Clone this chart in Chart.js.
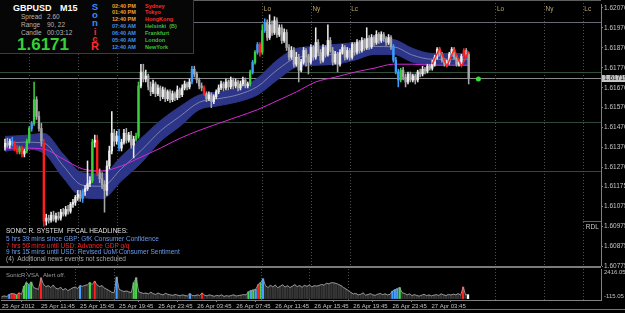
<!DOCTYPE html>
<html>
<head>
<meta charset="utf-8">
<title>GBPUSD M15 - Sonic R</title>
<script src="https://cdn.jsdelivr.net/npm/chart.js@4.4.1/dist/chart.umd.min.js"></script>
<style>
html,body{margin:0;padding:0;background:#000;}
body{position:relative;width:625px;height:313px;overflow:hidden;font-family:"Liberation Sans",Arial,sans-serif;}
canvas{position:absolute;left:0;}
#main{top:0;}
#vol{top:266px;}
.t{position:absolute;white-space:pre;}
.ln{position:absolute;}
#info{position:absolute;left:0;top:0;width:193px;height:53px;background:#060606;border-right:1px solid #3c3c3c;border-bottom:1px solid #3c3c3c;}
.big{font:bold 9px/9px "Liberation Sans",Arial,sans-serif;color:#fff;}
.sm{font:6.5px/6.5px "Liberation Sans",Arial,sans-serif;color:#b4b4b4;}
.clk{font:bold 5.5px/5.5px "Liberation Sans",Arial,sans-serif;}
.sr{font:bold 9.5px/9.5px "Liberation Sans",Arial,sans-serif;width:10px;text-align:center;left:90px;}
.news{font:6.5px/6.5px "Liberation Sans",Arial,sans-serif;left:6px;}
</style>
</head>
<body>
<canvas id="main" width="625" height="272"></canvas>
<canvas id="vol" width="625" height="47"></canvas>
<div class="ln" style="left:0;top:0;width:601px;height:1px;background:#5e5e5e"></div>
<div class="ln" style="left:0;top:266px;width:601px;height:2px;background:#7a7a7a"></div>
<div class="ln" style="left:0;top:309px;width:625px;height:1px;background:#777"></div>

<div id="info">
  <div class="t big" style="left:13px;top:4px">GBPUSD</div>
  <div class="t big" style="left:60px;top:4px">M15</div>
  <div class="t sm" style="left:21px;top:13.5px">Spread</div>
  <div class="t sm" style="left:47px;top:13.5px">2.60</div>
  <div class="t sm" style="left:21px;top:21.7px">Range</div>
  <div class="t sm" style="left:47px;top:21.7px">90, 22</div>
  <div class="t sm" style="left:21px;top:30px">Candle</div>
  <div class="t sm" style="left:47px;top:30px">00:03:12</div>
  <div class="t" style="left:17px;top:35.5px;font:bold 17px/17px 'Liberation Sans',Arial,sans-serif;color:#35d035">1.6171</div>

  <div class="t sr" style="top:1.5px;color:#3a8cff">S</div>
  <div class="t sr" style="top:10.4px;color:#3a8cff">o</div>
  <div class="t sr" style="top:17.7px;color:#3a8cff">n</div>
  <div class="t sr" style="top:27px;color:#ff2a2a">i</div>
  <div class="t sr" style="top:33.7px;color:#ff2a2a">c</div>
  <div class="t sr" style="top:41.2px;font-size:11px;line-height:11px;color:#ff2a2a">R</div>

  <div class="t clk" style="left:112px;top:3.5px;color:#f0a030">02:40 PM</div>
  <div class="t clk" style="left:112px;top:10.4px;color:#f0a030">01:40 PM</div>
  <div class="t clk" style="left:112px;top:17.2px;color:#f0a030">12:40 PM</div>
  <div class="t clk" style="left:112px;top:24.1px;color:#3f8fef">07:40 AM</div>
  <div class="t clk" style="left:112px;top:30.9px;color:#3f8fef">06:40 AM</div>
  <div class="t clk" style="left:112px;top:37.8px;color:#3f8fef">05:40 AM</div>
  <div class="t clk" style="left:112px;top:44.6px;color:#3f8fef">12:40 AM</div>

  <div class="t clk" style="left:145px;top:3.5px;color:#ff2a2a">Sydney</div>
  <div class="t clk" style="left:145px;top:10.4px;color:#ff2a2a">Tokyo</div>
  <div class="t clk" style="left:145px;top:17.2px;color:#ff2a2a">HongKong</div>
  <div class="t clk" style="left:145px;top:24.1px;color:#3fbf3f">Helsinki  (B)</div>
  <div class="t clk" style="left:145px;top:30.9px;color:#3fbf3f">Frankfurt</div>
  <div class="t clk" style="left:145px;top:37.8px;color:#3fbf3f">London</div>
  <div class="t clk" style="left:145px;top:44.6px;color:#3fbf3f">NewYork</div>
</div>

<div class="t news" style="top:228.2px;color:#e0e0e0">SONIC R. SYSTEM  FFCAL HEADLINES:</div>
<div class="t news" style="top:235.8px;color:#6a9cf0">5 hrs 39 mins since GBP: GfK Consumer Confidence</div>
<div class="t news" style="top:242.5px;color:#ff2020">7 hrs 50 mins until USD: Advance GDP q/q</div>
<div class="t news" style="top:249.4px;color:#6a9cf0">9 hrs 15 mins until USD: Revised UoM Consumer Sentiment</div>
<div class="t news" style="top:256px;color:#a8a8a8">(4)  Additional news events not scheduled</div>

<div class="t" style="left:6px;top:272px;font:6px/6px 'Liberation Sans',Arial,sans-serif;color:#9c9c9c">SonicR VSA</div>
<div class="t" style="left:43px;top:272px;font:6px/6px 'Liberation Sans',Arial,sans-serif;color:#9c9c9c">Alert off.</div>

<script>
// prices are kept in points (0.00001) above BASE
const BASE = 1.6;

const opens = [1372,1392,1382,1402,1387,1362,1348,1367,1338,1353,
  1402,1466,1491,1610,1526,1466,1392,1001,1016,1006,
  1031,1011,1026,1016,1046,1036,1060,1051,1085,1095,
  1120,1135,1115,1150,1164,1189,1204,1397,1407,1244,
  1214,1184,1155,1278,1353,1442,1402,1427,1367,1397,
  1442,1407,1432,1382,1412,1427,1679,1749,1714,1729,
  1674,1650,1689,1640,1669,1625,1659,1615,1650,1610,
  1640,1620,1659,1635,1669,1689,1674,1699,1763,1739,
  1709,1679,1669,1640,1615,1635,1600,1625,1650,1669,
  1689,1669,1699,1674,1709,1679,1699,1669,1689,1709,
  1679,1689,1749,1798,1848,1887,1848,1956,1996,1922,
  1986,1947,2006,1937,1971,1907,1947,1872,1823,1857,
  1788,1823,1758,1798,1857,1823,1798,1872,1823,1897,
  1848,1808,1872,1838,1907,1857,1798,1838,1788,1848,
  1872,1823,1857,1823,1887,1848,1897,1857,1907,1872,
  1917,1877,1922,1897,1937,1907,1937,1917,1897,1922,
  1877,1808,1749,1709,1758,1724,1699,1739,1709,1729,
  1709,1749,1739,1763,1753,1778,1768,1788,1823,1862,
  1838,1808,1788,1798,1838,1862,1823,1788,1798,1828,
  1857,1838];
const highs = [1412,1417,1412,1422,1402,1382,1377,1377,1362,1412,
  1476,1501,1699,1625,1551,1491,1412,1036,1031,1046,
  1051,1041,1046,1060,1065,1075,1080,1095,1110,1130,
  1155,1155,1159,1179,1303,1224,1412,1432,1432,1263,
  1244,1204,1303,1377,1551,1461,1452,1461,1412,1461,
  1466,1447,1452,1427,1442,1699,1788,1788,1758,1739,
  1699,1709,1699,1684,1679,1674,1669,1659,1659,1654,
  1650,1679,1669,1684,1704,1699,1714,1778,1778,1749,
  1719,1694,1679,1650,1650,1645,1635,1659,1684,1704,
  1699,1714,1709,1724,1719,1714,1709,1704,1724,1719,
  1699,1758,1808,1857,1897,1897,1986,2016,2011,2036,
  2006,2026,2021,1986,1986,1966,1961,1887,1877,1872,
  1848,1838,1813,1872,1867,1838,1887,1882,1971,1912,
  1862,1887,1882,1986,1922,1872,1852,1848,1862,1887,
  1882,1872,1867,1897,1897,1912,1907,1922,1917,1971,
  1932,1937,1932,1956,1947,1951,1947,1927,1937,1932,
  1887,1823,1763,1768,1773,1739,1749,1749,1739,1739,
  1758,1763,1778,1773,1788,1788,1808,1833,1872,1872,
  1848,1818,1808,1848,1872,1872,1833,1808,1838,1867,
  1867,1848];
const lows = [1357,1372,1367,1377,1353,1338,1338,1323,1323,1343,
  1392,1452,1481,1511,1452,1377,976,981,991,996,
  1001,996,1006,1006,1026,1026,1036,1041,1070,1080,
  1105,1100,1095,1130,1155,1174,1194,1372,1229,1194,
  1164,1046,1130,1263,1338,1377,1387,1353,1353,1387,
  1392,1397,1367,1318,1402,1417,1669,1699,1699,1659,
  1630,1640,1625,1630,1605,1615,1600,1605,1595,1600,
  1605,1610,1620,1625,1659,1659,1664,1689,1724,1694,
  1664,1654,1630,1600,1605,1570,1590,1615,1640,1659,
  1654,1659,1659,1664,1664,1669,1654,1659,1679,1669,
  1669,1679,1739,1788,1838,1828,1838,1947,1907,1912,
  1932,1937,1922,1927,1892,1897,1857,1808,1813,1773,
  1778,1699,1749,1788,1778,1739,1788,1808,1813,1833,
  1793,1798,1823,1828,1848,1783,1788,1749,1778,1838,
  1808,1813,1808,1813,1833,1838,1843,1848,1857,1862,
  1862,1867,1882,1887,1892,1897,1902,1882,1887,1862,
  1798,1739,1674,1699,1709,1674,1689,1699,1699,1689,
  1699,1724,1729,1739,1744,1758,1758,1778,1813,1828,
  1798,1778,1778,1788,1828,1813,1778,1778,1788,1818,
  1828,1689];
const closes = [1392,1382,1402,1387,1362,1348,1367,1338,1353,1402,
  1466,1491,1610,1526,1466,1402,1001,1016,1006,1031,
  1011,1026,1016,1046,1036,1060,1051,1085,1095,1120,
  1135,1115,1150,1164,1189,1204,1397,1407,1244,1214,
  1184,1155,1278,1353,1442,1402,1427,1367,1397,1442,
  1407,1432,1382,1412,1427,1679,1749,1714,1729,1674,
  1650,1689,1640,1669,1625,1659,1615,1650,1610,1640,
  1620,1659,1635,1669,1689,1674,1699,1763,1739,1709,
  1679,1669,1640,1615,1635,1600,1625,1650,1669,1689,
  1669,1699,1674,1709,1679,1699,1669,1689,1709,1679,
  1689,1749,1798,1848,1887,1848,1956,1996,1922,1986,
  1947,2006,1937,1971,1907,1947,1872,1823,1857,1788,
  1823,1758,1798,1857,1823,1798,1872,1823,1897,1848,
  1808,1872,1838,1907,1857,1798,1838,1788,1848,1872,
  1823,1857,1823,1887,1848,1897,1857,1907,1872,1917,
  1877,1922,1897,1937,1907,1937,1917,1897,1922,1877,
  1808,1749,1709,1758,1724,1699,1739,1709,1729,1709,
  1749,1739,1763,1753,1778,1768,1788,1823,1862,1838,
  1808,1788,1798,1838,1862,1823,1788,1798,1828,1857,
  1838,1719];

const volumes = [180,210,170,330,420,380,300,460,350,
  1000,1300,1150,1350, 900,820,760, 1700,
  1150,980,1050,900,1100,850,780,920,700,820,650,760,880,940,820,
  1050, 1000,1080,1120, 1300, 1150, 1420,
  1100,980,1060,850,760,640,520,480, 1760,
  760,650,580,620,540,500, 1300,1700,
  560,480,420,450,380,520,400,340,450,360,300,420,350,
  300,260,340,280,230,300,250,210,400,260,230,300,260,450,280,220,
  300,250,190,260,220,300,180,240,200,260,300,210,250,280,330,300,
  550,650,700,760,1150,1300,1620,
  1050,900,1080,960,1100,880,1000,1120,940,1050,900,1010,1130,980,1060,930,1080,
  1000,1100,960,1050,1020,1080,1150,1100,
  1250,1200,1300,1280,1240,1150,1050,
  900,780,650,500,
  380,420,300,350,460,280,330,400,300,270,360,420,320,390,300,350,
  600,720,800,900,
  480,420,300,380,250,320,260,200,280,350,240,300,220,280,320,260,380,300,250,340,290,360,310,400,280,
  950,300,320];

// Sonic VSA colour code per bar: n normal, G green, R red, B blue, W white
const vsa = ("nnnBRRGRnG" + "GBGnnnRnnn" + "nnnnnnnnnn" + "nnBnnnGnRn" + "nnnnnnnBnn" +
  "nnnnGGnnnn" + "nnnnnnnnnn" + "nnnnnnnBnn" + "nnRnnnnnnn" + "nnnnnnnnnn" +
  "nGBGBRGBnn" + "nnnnnnnnnn" + "nnnnnnnnnn" + "nnnnnnnnnn" + "nnnnnnnnnn" +
  "nnnnnnnnnn" + "BBBGnnnnnn" + "nnnnnnnnnn" + "nnnnnnnnnR" + "nW").split('');

// Sonic R dragon band, its middle line and the slow magenta average, read every 8 bars
const indBars  = [0,8,16,24,32,40,48,56,64,72,80,88,96,104,112,120,128,136,144,152,160,168,176,184,191];
const bandTop  = [1426,1431,1441,1337,1243,1238,1327,1416,1505,1575,1634,1649,1669,1718,1808,1867,1877,1887,1897,1917,1912,1867,1842,1842,1842];
const bandBot  = [1352,1362,1342,1218,1119,1114,1203,1292,1401,1476,1560,1580,1600,1634,1708,1773,1783,1788,1808,1837,1837,1798,1783,1783,1783];
const bandMid  = [1389,1397,1392,1278,1181,1176,1265,1354,1453,1526,1597,1615,1635,1676,1758,1820,1830,1838,1853,1877,1875,1833,1813,1813,1813];
const magenta  = [1367,1367,1362,1312,1263,1253,1278,1322,1367,1416,1456,1491,1525,1560,1604,1649,1699,1723,1748,1768,1788,1788,1783,1783,1783];

const zzBars  = [176,179,182,185,188,191];
const zzPrice = [1788,1867,1778,1862,1778,1852];
const dotBar = 195, dotPrice = 1714;

const bidPrice = 1.61719;
const rdlPrice = 1.61, rdlFromBar = 238;
const levelPrices = [1.62, 1.6175, 1.615, 1.6125];
const levelColors = ['#6a6a76', '#32503a', '#33463a', '#33463a'];

const sessionBars  = [10,30,46,106,126,142,202,222,238];
const sessionNames = ['Lo','Ny','Lc','Lo','Ny','Lc','Lo','Ny','Lc'];

const priceTicks = [1.62070,1.61970,1.61870,1.61770,1.61670,1.61570,1.61470,1.61370,1.61270,
  1.61175,1.61075,1.60975,1.60875,1.60775];
const timeBars = [0,16,32,48,64,80,96,112,128,144,160,176];
const timeLabels = ['25 Apr 2012','25 Apr 11:45','25 Apr 15:45','25 Apr 19:45','25 Apr 23:45','26 Apr 03:45',
  '26 Apr 07:45','26 Apr 11:45','26 Apr 15:45','26 Apr 19:45','26 Apr 23:45','27 Apr 03:45'];

const X_MIN = -0.4, X_MAX = 245.5;
const FONT = '"Liberation Sans", Arial, sans-serif';

const P = v => +(BASE + v / 1e5).toFixed(5);
const bars = closes.map((_, i) => i);

function bodyColor(i) {
  const c = vsa[i];
  if (c === 'G') return '#3ccf3c';
  if (c === 'R') return '#ff1e1e';
  if (c === 'B') return '#3d9cff';
  return closes[i] >= opens[i] ? '#ececec' : '#a8a8a8';
}
function volColor(i) {
  return { G: '#4cd44c', R: '#ff2020', B: '#45a0ff', W: '#ffffff' }[vsa[i]] || '#363636';
}
const line = (xs, ys) => xs.map((b, k) => ({ x: b, y: P(ys[k]) }));

Chart.defaults.font.family = FONT;
Chart.defaults.color = '#c0c0c0';

const mainDecor = {
  id: 'mainDecor',
  beforeDatasetsDraw(chart) {
    const { ctx, chartArea: a, scales: { x, y } } = chart;
    ctx.save();
    ctx.lineWidth = 1;
    levelPrices.forEach((p, k) => {
      const py = Math.round(y.getPixelForValue(p)) + 0.5;
      ctx.strokeStyle = levelColors[k];
      ctx.beginPath(); ctx.moveTo(0, py); ctx.lineTo(a.right, py); ctx.stroke();
    });
    const by = Math.round(y.getPixelForValue(bidPrice)) + 0.5;
    ctx.strokeStyle = '#8a8a8a';
    ctx.beginPath(); ctx.moveTo(0, by); ctx.lineTo(a.right, by); ctx.stroke();
    ctx.setLineDash([1, 2]);
    ctx.strokeStyle = '#4e4e4e';
    sessionBars.forEach(b => {
      const px = Math.round(x.getPixelForValue(b)) + 0.5;
      ctx.beginPath(); ctx.moveTo(px, 0); ctx.lineTo(px, a.bottom); ctx.stroke();
    });
    ctx.restore();
  },
  afterDraw(chart) {
    const { ctx, chartArea: a, scales: { x, y } } = chart;
    ctx.save();
    ctx.font = '6.5px ' + FONT;
    ctx.textBaseline = 'middle';
    ctx.fillStyle = '#b9a66c';
    sessionBars.forEach((b, k) => ctx.fillText(sessionNames[k], x.getPixelForValue(b) + 1.5, a.top + 5));
    // RDL level
    const ry = Math.round(y.getPixelForValue(rdlPrice)) + 0.5;
    const rx = x.getPixelForValue(rdlFromBar);
    ctx.strokeStyle = '#3564c8';
    ctx.lineWidth = 1;
    ctx.beginPath(); ctx.moveTo(rx, ry); ctx.lineTo(a.right, ry); ctx.stroke();
    ctx.fillStyle = '#c8c8c8';
    ctx.fillText('RDL', rx + 3, ry + 5.5);
    // current bid on the price scale
    const by = y.getPixelForValue(bidPrice);
    ctx.fillStyle = '#c6c6c6';
    ctx.fillRect(a.right + 1, Math.round(by) - 3, 24, 7);
    ctx.fillStyle = '#111';
    ctx.fillText(bidPrice.toFixed(5), a.right + 3, by + 0.5);
    ctx.restore();
  }
};

const volDecor = {
  id: 'volDecor',
  beforeDatasetsDraw(chart) {
    const { ctx, chartArea: a, scales: { x } } = chart;
    ctx.save();
    ctx.setLineDash([1, 2]);
    ctx.strokeStyle = '#4e4e4e';
    sessionBars.forEach(b => {
      const px = Math.round(x.getPixelForValue(b)) + 0.5;
      ctx.beginPath(); ctx.moveTo(px, a.top); ctx.lineTo(px, a.bottom); ctx.stroke();
    });
    ctx.restore();
  },
  afterDraw(chart) {
    const { ctx, chartArea: a, scales: { y } } = chart;
    ctx.save();
    ctx.font = '6px ' + FONT;
    ctx.fillStyle = '#c0c0c0';
    ctx.textBaseline = 'top';
    ctx.fillText(y.max.toFixed(2), a.right + 3, y.getPixelForValue(y.max) + 0.5);
    ctx.textBaseline = 'bottom';
    ctx.fillText(y.min.toFixed(2), a.right + 3, y.getPixelForValue(y.min) - 0.5);
    ctx.restore();
  }
};

new Chart(document.getElementById('main'), {
  type: 'bar',
  data: {
    datasets: [
      { type: 'line', data: line(indBars, bandTop), fill: '+1', backgroundColor: '#2c3588',
        borderColor: '#2c3588', borderWidth: 1, pointRadius: 0, cubicInterpolationMode: 'monotone', order: 10 },
      { type: 'line', data: line(indBars, bandBot), fill: false,
        borderColor: '#2c3588', borderWidth: 1, pointRadius: 0, cubicInterpolationMode: 'monotone', order: 9 },
      { type: 'line', data: line(indBars, bandMid), fill: false,
        borderColor: '#8f94b8', borderWidth: 0.8, pointRadius: 0, cubicInterpolationMode: 'monotone', order: 8 },
      { type: 'line', data: line(indBars, magenta), fill: false,
        borderColor: '#d42ad4', borderWidth: 1, pointRadius: 0, cubicInterpolationMode: 'monotone', order: 7 },
      { type: 'bar', data: bars.map(i => ({ x: i, y: [P(lows[i]), P(highs[i])] })),
        backgroundColor: bars.map(bodyColor), barThickness: 0.9, grouped: false, order: 5 },
      { type: 'bar', data: bars.map(i => ({ x: i, y: [P(opens[i]), P(closes[i])] })),
        backgroundColor: bars.map(bodyColor), barThickness: 1.7, minBarLength: 1, grouped: false, order: 4 },
      { type: 'line', data: line(zzBars, zzPrice), fill: false,
        borderColor: '#ff2424', borderWidth: 1.5, pointRadius: 0, tension: 0, order: 2 },
      { type: 'line', data: [{ x: dotBar, y: P(dotPrice) }], showLine: false,
        pointRadius: 2.5, pointBackgroundColor: '#37e037', pointBorderWidth: 0, order: 1 }
    ]
  },
  options: {
    responsive: false,
    animation: false,
    events: [],
    layout: { padding: { left: 1, top: 2, right: 0, bottom: 7 } },
    plugins: { legend: { display: false }, tooltip: { enabled: false } },
    scales: {
      x: { type: 'linear', min: X_MIN, max: X_MAX, offset: false, display: false },
      y: {
        position: 'right', min: 1.60781, max: 1.6209,
        afterBuildTicks: s => { s.ticks = priceTicks.map(v => ({ value: v })); },
        afterFit: s => { s.width = 24; s.paddingTop = 0; s.paddingBottom = 0; },
        ticks: { callback: v => v.toFixed(5), font: { size: 6.5 }, color: '#c4c4c4', padding: 1, autoSkip: false },
        grid: { drawOnChartArea: false, tickLength: 2, color: '#808080' },
        border: { color: '#808080' }
      }
    }
  },
  plugins: [mainDecor]
});

new Chart(document.getElementById('vol'), {
  type: 'bar',
  data: {
    datasets: [
      { type: 'bar', data: bars.map(i => ({ x: i, y: volumes[i] })),
        backgroundColor: bars.map(volColor), barThickness: 1.6, grouped: false, order: 2 },
      { type: 'line', data: bars.map(i => ({ x: i, y: volumes[i] })), fill: false,
        borderColor: '#a0a0a0', borderWidth: 0.9, pointRadius: 0, tension: 0, order: 1 }
    ]
  },
  options: {
    responsive: false,
    animation: false,
    events: [],
    layout: { padding: { left: 1, top: 3, right: 0, bottom: 0 } },
    plugins: { legend: { display: false }, tooltip: { enabled: false } },
    scales: {
      x: {
        type: 'linear', min: X_MIN, max: X_MAX, offset: false,
        afterBuildTicks: s => { s.ticks = timeBars.map(v => ({ value: v })); },
        afterFit: s => { s.height = 13; s.paddingLeft = 0; s.paddingRight = 0; },
        ticks: { callback: (v, i) => timeLabels[i], align: 'start', maxRotation: 0, autoSkip: false,
          font: { size: 6 }, color: '#c0c0c0', padding: 1 },
        grid: { drawOnChartArea: false, tickLength: 2, color: '#808080' },
        border: { color: '#808080' }
      },
      y: {
        position: 'right', min: -115.05, max: 2416.05,
        afterFit: s => { s.width = 24; s.paddingTop = 0; s.paddingBottom = 0; },
        ticks: { display: false },
        grid: { display: false },
        border: { color: '#808080' }
      }
    }
  },
  plugins: [volDecor]
});
</script>
</body>
</html>
